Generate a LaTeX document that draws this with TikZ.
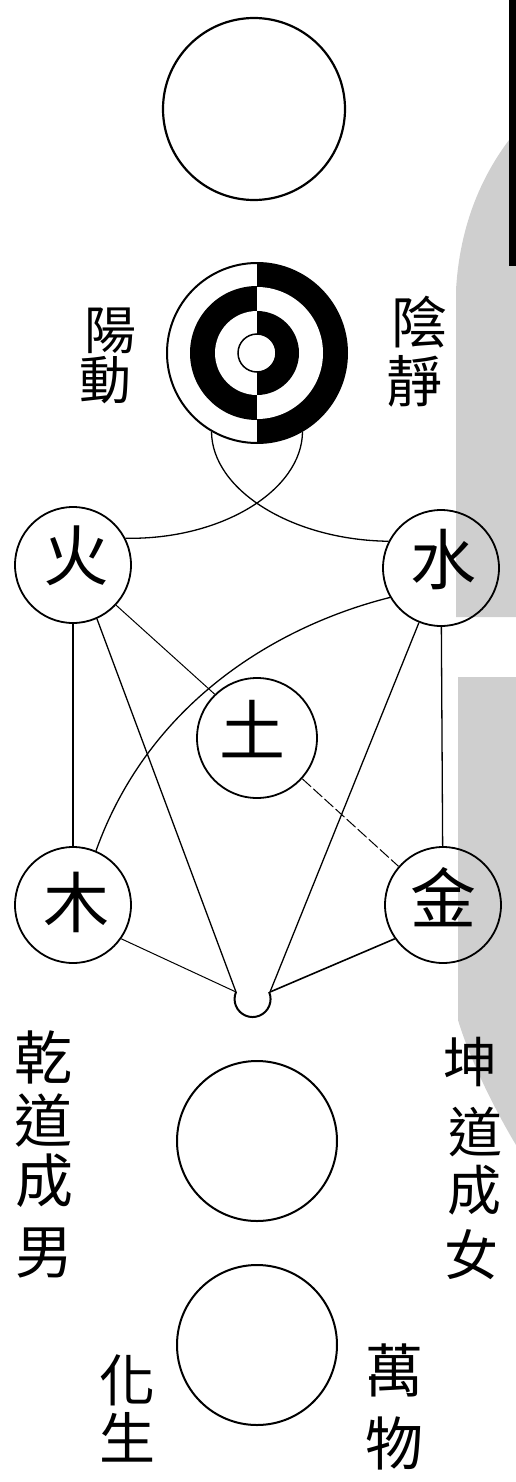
\documentclass[tikz,border=0pt]{standalone}
\usepackage{fontspec}
\newfontfamily\cjk{Noto Sans CJK TC}
\begin{document}
\begin{tikzpicture}[x=1pt,y=-1pt,
  bigcirc/.style={circle,draw,line width=2.2pt,inner sep=0pt,minimum size=#1},
  elem/.style={circle,draw,line width=1.8pt,inner sep=0pt,minimum size=116pt},
  conn/.style={line width=1.3pt},
  thinconn/.style={line width=1.0pt},
  txt/.style={inner sep=0pt,font=\cjk\fontsize{#1}{#1}\selectfont},
  shade/.style={fill=black!19}]
\useasboundingbox (0,0) rectangle (516,1482);
% scan shading
\fill[shade] (516,130) -- (509,140) .. controls (485,172) and (460,220) .. (456,290) -- (456,617) -- (516,617) -- cycle;
\fill[shade] (458,677) -- (458,1020) .. controls (470,1060) and (495,1110) .. (516,1145) -- (516,677) -- cycle;
\fill[black] (509,0) rectangle (516,266);
% top circle
\node[bigcirc=182pt] (wuji) at (254,109) {};
% taiji
\coordinate (tc) at (257,353);
\begin{scope}
  \clip (160,255) rectangle (257,455);
  \fill (tc) circle[radius=67pt];
  \fill[white] (tc) circle[radius=42pt];
\end{scope}
\begin{scope}
  \clip (257,255) rectangle (355,455);
  \fill (tc) circle[radius=90pt];
  \fill[white] (tc) circle[radius=66pt];
  \fill (tc) circle[radius=42pt];
\end{scope}
\node[circle,draw,fill=white,line width=1.5pt,inner sep=0pt,minimum size=38pt] (taijic) at (tc) {};
\node[bigcirc=180pt,line width=2pt] (taiji) at (tc) {};
\node[txt=52pt] (yang) at (110,331) {陽};
\node[txt=52pt] (dong) at (105,380) {動};
\node[txt=56pt] (yin) at (419,322) {陰};
\node[txt=56pt] (jing) at (414,381) {靜};
% five elements
\node[elem] (huo) at (73,565) {};
\node[elem] (shui) at (441,568) {};
\node[elem,minimum size=120pt] (tu) at (257,738) {};
\node[elem] (mu) at (73,905) {};
\node[elem] (jin) at (443,905) {};
\node[txt=66pt] (huot) at (76,556) {火};
\node[txt=66pt] (shuit) at (443,560) {水};
\node[txt=66pt] (tut) at (252,729) {土};
\node[txt=66pt] (mut) at (76,902) {木};
\node[txt=66pt] (jint) at (443,897) {金};
% cup
\coordinate (cupL) at (236,992);
\coordinate (cupR) at (270,992);
\draw[line width=2pt] (cupL) arc[start angle=157,end angle=383,radius=18pt];
% crossing curves
\draw[conn] (taiji.240) .. controls (212,490) and (292,540) .. (shui.153);
\draw[conn] (taiji.300) .. controls (302,490) and (222,540) .. (huo.27);
% connectors
\draw[conn] (huo) -- (mu);
\draw[conn] (shui) -- (jin);
\draw[thinconn] (huo.-43) -- (tu.134);
\draw[conn] (huo.-66) -- (cupL);
\draw[conn] (shui.248) -- (cupR);
\draw[conn] (shui.210) .. controls (280,625) and (150,700) .. (mu.67);
\draw[thinconn,dash pattern=on 12pt off 3pt] (tu.-42) -- (jin.139);
\draw[thinconn] (mu.-35) -- (cupL);
\draw[line width=1.6pt] (jin.215) -- (cupR);
% lower circles
\node[bigcirc=160pt,line width=2pt] (qiankun) at (257,1141) {};
\node[bigcirc=160pt,line width=2pt] (wanwu) at (257,1345) {};
% side texts
\node[txt=58pt] (q1) at (43,1057) {乾};
\node[txt=58pt] (q2) at (43,1121) {道};
\node[txt=58pt] (q3) at (45,1181) {成};
\node[txt=58pt] (q4) at (44,1253) {男};
\node[txt=54pt] (k1) at (470,1062) {坤};
\node[txt=54pt] (k2) at (475,1132) {道};
\node[txt=54pt] (k3) at (474,1190) {成};
\node[txt=54pt] (k4) at (471,1255) {女};
\node[txt=56pt] (h1) at (127,1380) {化};
\node[txt=56pt] (h2) at (127,1437) {生};
\node[txt=58pt] (w1) at (394,1370) {萬};
\node[txt=58pt] (w2) at (394,1443) {物};
\end{tikzpicture}
\end{document}
